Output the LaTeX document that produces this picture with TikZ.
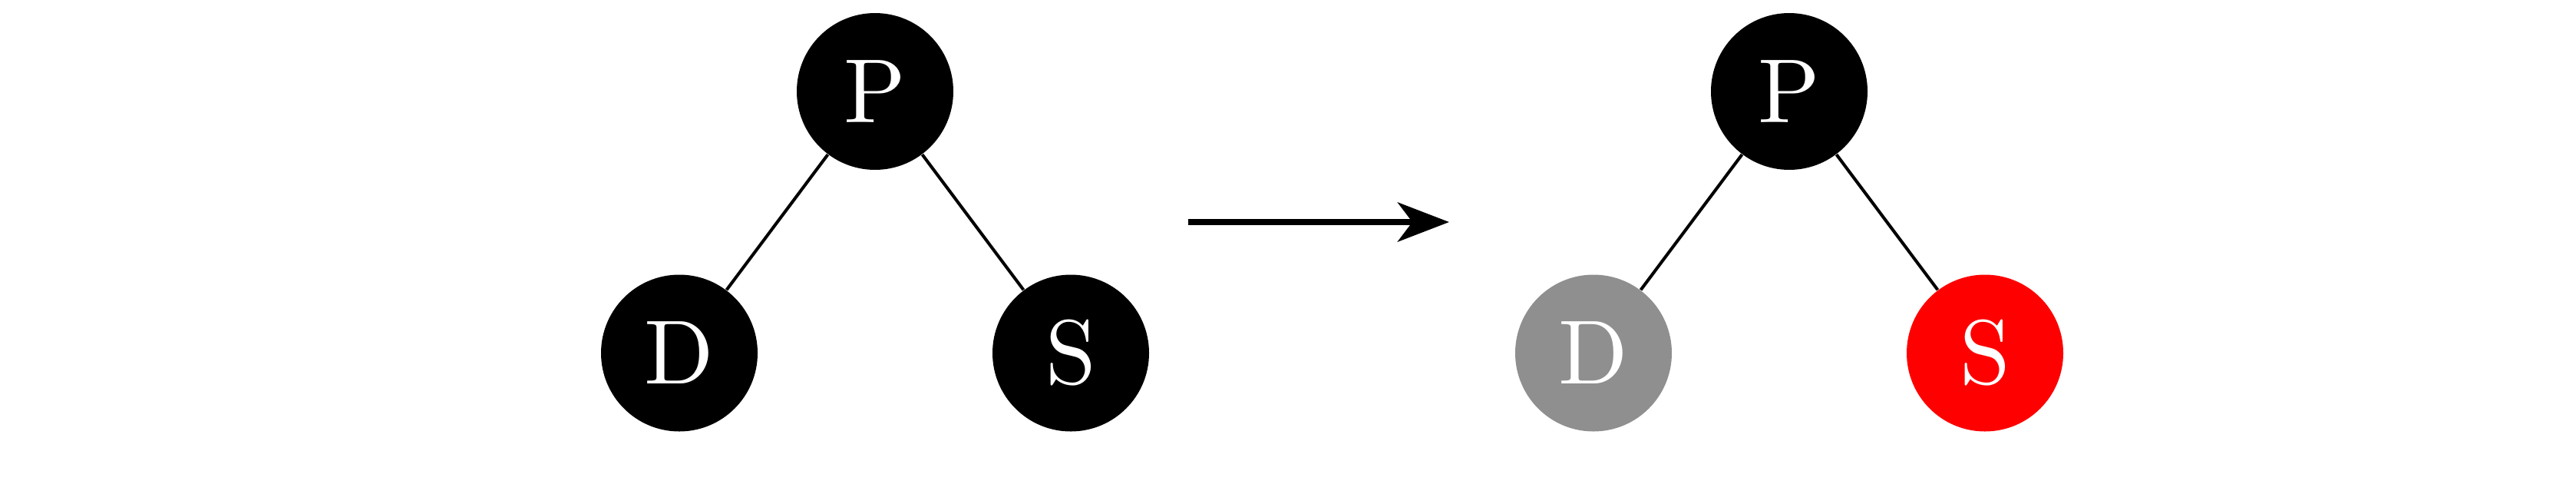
\documentclass[tikz,border=0pt]{standalone}
\usepackage{graphicx}
\usetikzlibrary{arrows.meta}
\definecolor{nodegray}{RGB}{143,143,143}
\definecolor{nodered}{RGB}{255,0,0}
\tikzset{
  treenode/.style={circle, fill=#1, draw=none, minimum size=2.04cm, inner sep=0pt, text=white, font=\normalsize},
  treenode/.default=black,
  edge/.style={draw=black, line width=1.15pt},
  bigarrow/.style={draw=black, line width=2.4pt, -{Stealth[length=0.67cm, width=0.51cm, inset=0.19cm]}}
}
\newcommand{\bigletter}[1]{\scalebox{3.37}{#1}}
\begin{document}
\begin{tikzpicture}
\useasboundingbox (0,0) rectangle (33.56,6.25);
% left tree
\node[treenode] (P1) at (11.40,5.06) {\bigletter{P}};
\node[treenode] (D1) at (8.85,1.655) {\bigletter{D}};
\node[treenode] (S1) at (13.95,1.655) {\bigletter{S}};
\draw[edge] (P1) -- (D1);
\draw[edge] (P1) -- (S1);
% arrow
\coordinate (A0) at (15.48,3.36);
\coordinate (A1) at (18.88,3.36);
\draw[bigarrow] (A0) -- (A1);
% right tree
\node[treenode] (P2) at (23.31,5.06) {\bigletter{P}};
\node[treenode=nodegray] (D2) at (20.76,1.655) {\bigletter{D}};
\node[treenode=nodered] (S2) at (25.86,1.655) {\bigletter{S}};
\draw[edge] (P2) -- (D2);
\draw[edge] (P2) -- (S2);
\end{tikzpicture}
\end{document}
